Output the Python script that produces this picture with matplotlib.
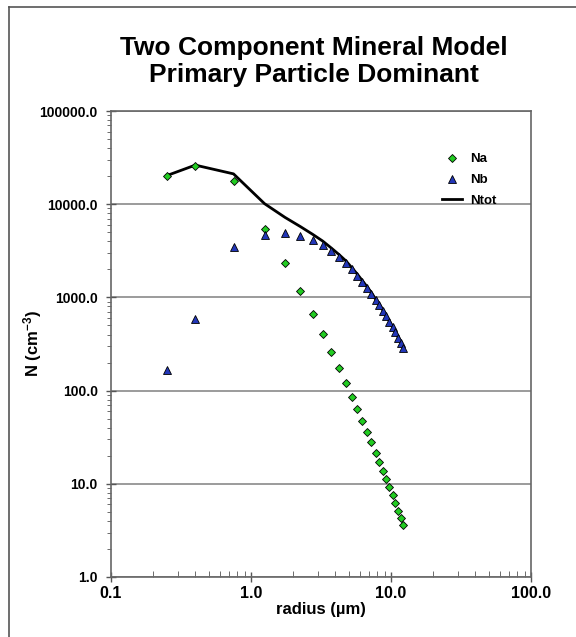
import numpy as np
import matplotlib.pyplot as plt
from matplotlib.lines import Line2D
from matplotlib.ticker import FuncFormatter, LogLocator, NullFormatter

plt.rcParams['font.family'] = ['Liberation Sans', 'DejaVu Sans']
plt.rcParams['mathtext.fontset'] = 'custom'
plt.rcParams['mathtext.rm'] = 'Liberation Sans:bold'
plt.rcParams['mathtext.default'] = 'rm'

# radius (um)
radius = [0.25, 0.4, 0.75, 1.25, 1.75, 2.25, 2.75, 3.25, 3.75, 4.25, 4.75,
          5.25, 5.75, 6.25, 6.75, 7.25, 7.75, 8.25, 8.75, 9.25, 9.75,
          10.25, 10.75, 11.25, 11.75, 12.25]

# component a (cm^-3)
na = [20100, 25700, 17700, 5420, 2340, 1170, 664, 405, 259, 175, 121,
      85, 63, 47.5, 36.2, 28.1, 21.6, 17.1, 13.7, 11.2, 9.25,
      7.5, 6.2, 5.15, 4.33, 3.64]

# component b (cm^-3)
nb = [168, 586, 3470, 4710, 4880, 4590, 4100, 3620, 3125, 2710, 2355,
      2000, 1710, 1462, 1262, 1096, 938, 828, 714, 627, 544,
      478, 423, 370, 327, 289]

ntot = np.array(na) + np.array(nb)

fig = plt.figure(figsize=(5.76, 6.37), dpi=100)
ax = fig.add_axes([0.1927, 0.0942, 0.7292, 0.7315])

ax.plot(radius, ntot, color='black', lw=2, label='Ntot', zorder=2)
ax.plot(radius, na, 'D', color='#22cc22', mec='black', mew=0.6, ms=4.5,
        label='Na', zorder=3)
ax.plot(radius, nb, '^', color='#2236b8', mec='black', mew=0.6, ms=6,
        label='Nb', zorder=3)

ax.set_xscale('log')
ax.set_yscale('log')
ax.set_xlim(0.1, 100)
ax.set_ylim(1, 100000)

ax.yaxis.grid(True, which='major', color='#8a8a8a', lw=1.2)
ax.set_axisbelow(True)

fmt = FuncFormatter(lambda v, p: '%.1f' % v)
ax.xaxis.set_major_formatter(fmt)
ax.yaxis.set_major_formatter(fmt)
ax.xaxis.set_minor_locator(LogLocator(base=10, subs=np.arange(2, 10)))
ax.yaxis.set_minor_locator(LogLocator(base=10, subs=np.arange(2, 10)))
ax.xaxis.set_minor_formatter(NullFormatter())
ax.yaxis.set_minor_formatter(NullFormatter())

ax.tick_params(which='major', direction='inout', length=7, width=1, color='#555555')
ax.tick_params(axis='x', which='minor', direction='in', length=4, color='#555555')
ax.tick_params(axis='y', which='minor', direction='out', length=3, color='#555555')
ax.tick_params(axis='x', labelsize=11.5, pad=3)
ax.tick_params(axis='y', labelsize=10, pad=6)
for lab in ax.get_xticklabels() + ax.get_yticklabels():
    lab.set_fontweight('bold')

for s in ax.spines.values():
    s.set_color('#666666')
    s.set_linewidth(1.2)

ax.set_xlabel('radius (\u00b5m)', fontsize=12, fontweight='bold', labelpad=1)
ax.set_ylabel('N (cm$^{-3}$)', fontsize=12, fontweight='bold')
ax.yaxis.set_label_coords(-0.16, 0.5)

fig.suptitle('Two Component Mineral Model\nPrimary Particle Dominant',
             x=0.545, y=0.943, fontsize=19, fontweight='bold', linespacing=1.15)

handles = [
    Line2D([], [], ls='none', marker='D', color='#22cc22', mec='black', mew=0.6, ms=4.5),
    Line2D([], [], ls='none', marker='^', color='#2236b8', mec='black', mew=0.6, ms=6),
    Line2D([], [], color='black', lw=2),
]
leg = ax.legend(handles, ['Na', 'Nb', 'Ntot'], loc='upper right',
                bbox_to_anchor=(0.945, 0.935), frameon=False,
                prop={'weight': 'bold', 'size': 9.5}, handlelength=1.5,
                handletextpad=0.6, labelspacing=0.65)

# outer chart frame (left and top only)
fig.add_artist(Line2D([9 / 576, 9 / 576], [0, 1 - 7 / 637], color='#555555', lw=1.2))
fig.add_artist(Line2D([9 / 576, 1], [1 - 7 / 637, 1 - 7 / 637], color='#555555', lw=1.2))

fig.savefig('out.png', dpi=100)
